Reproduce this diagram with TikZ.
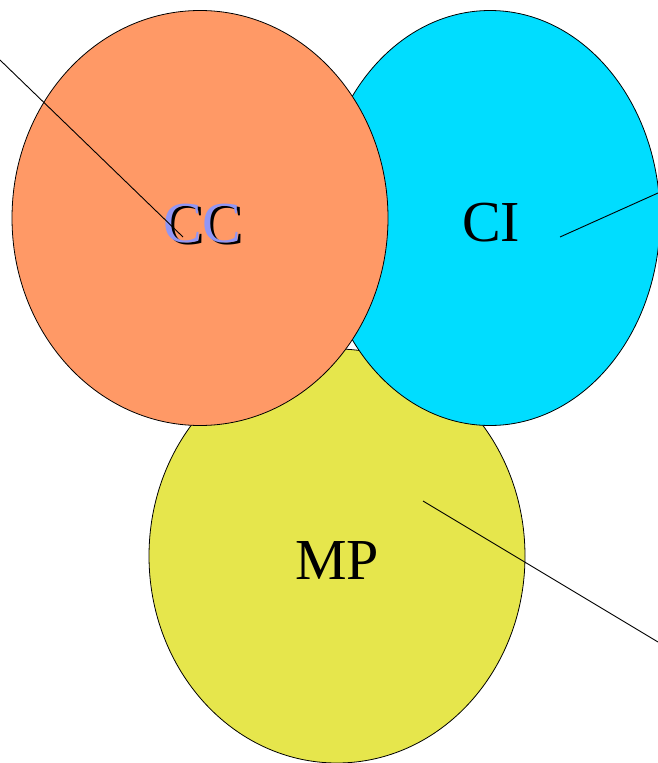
\documentclass[tikz,border=0pt]{standalone}
\usepackage{fontspec}
\setmainfont{Liberation Serif}
\usetikzlibrary{shapes.geometric}
\definecolor{ccfill}{RGB}{255,153,102}
\definecolor{cifill}{RGB}{0,221,255}
\definecolor{mpfill}{RGB}{230,230,76}
\definecolor{cctext}{RGB}{145,150,245}
\tikzset{
  blob/.style={ellipse, draw=black, line width=0.8pt, inner sep=0pt},
  lbl/.style={font=\fontsize{58}{58}\selectfont, anchor=base, inner sep=0pt},
  ray/.style={draw=black, line width=0.9pt}
}
\begin{document}
\begin{tikzpicture}[x=1pt,y=-1pt]
\useasboundingbox (0,0) rectangle (657,763);
\node[blob, fill=mpfill, minimum width=376pt, minimum height=414pt] (mp) at (337,556) {};
\node[blob, fill=cifill, minimum width=340pt, minimum height=415pt] (ci) at (490,218) {};
\node[blob, fill=ccfill, minimum width=376pt, minimum height=415pt] (cc) at (200,218) {};
\node[lbl] (cctxtshadow) at (205,244) {CC};
\node[lbl, text=cctext] (cctxt) at (202,242) {CC};
\node[lbl] (citxt) at (491,241) {CI};
\node[lbl] (mptxt) at (337,579) {MP};
\coordinate (ccA) at (0,60);
\coordinate (ccB) at (183,237);
\coordinate (ciA) at (560,237);
\coordinate (ciB) at (658,193);
\coordinate (mpA) at (423,501);
\coordinate (mpB) at (658,642);
\draw[ray] (ccA) -- (ccB);
\draw[ray] (ciA) -- (ciB);
\draw[ray] (mpA) -- (mpB);
\end{tikzpicture}
\end{document}
